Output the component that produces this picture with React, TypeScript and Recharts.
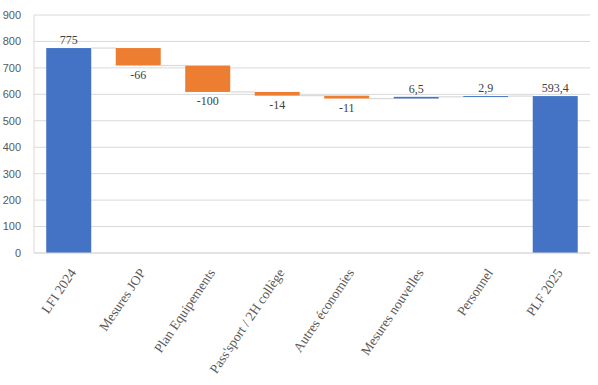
import { Bar, BarChart, CartesianGrid, LabelList, XAxis, YAxis } from "recharts";

const categories = ["LFI 2024", "Mesures JOP", "Plan Equipements", "Pass'sport / 2H collège", "Autres économies", "Mesures nouvelles", "Personnel", "PLF 2025"];
const deltas = [775, -66, -100, -14, -11, 6.5, 2.9, 593.4];
const totals = [true, false, false, false, false, false, false, true];
const yTicks = [0, 100, 200, 300, 400, 500, 600, 700, 800, 900];

const colors = { blue: "#4472c4", orange: "#ed7d31", grid: "#d9d9d9", label: "#404040", tick: "#595959" };

let running = 0;
const rows = categories.map((name, i) => {
  const d = deltas[i];
  if (totals[i]) {
    running = d;
    return { name, base: 0, size: d, delta: d, total: true };
  }
  const prev = running;
  running = prev + d;
  return { name, base: Math.min(prev, running), size: Math.abs(d), delta: d, total: false };
});

const fmt = (v: number) => String(v).replace(".", ",");

function StepBar(props: any) {
  const { x, y, width, height, index } = props;
  const row = rows[index];
  const fill = row.total || row.delta > 0 ? colors.blue : colors.orange;
  const level = !row.total && row.delta < 0 ? y + height : y;
  const gap = width * 0.545;
  return (
    <g>
      <rect x={x} y={y} width={width} height={Math.max(height, 1)} fill={fill} />
      {index < rows.length - 1 && <line x1={x + width} x2={x + width + gap} y1={level} y2={level} stroke={colors.grid} strokeWidth={1.2} />}
    </g>
  );
}

function ValueLabel(props: any) {
  const { x, y, width, height, index } = props;
  const row = rows[index];
  const below = !row.total && row.delta < 0;
  return (
    <text x={x + width / 2} y={below ? y + height + 13 : y - 4} textAnchor="middle" fill={colors.label} fontSize={12} fontFamily="Liberation Serif">
      {fmt(row.delta)}
    </text>
  );
}

function CategoryTick(props: any) {
  const { x, y, payload } = props;
  const tx = x + 4;
  const ty = y + 9;
  return (
    <text x={tx} y={ty} dy="0.35em" textAnchor="end" transform={`rotate(-56, ${tx}, ${ty})`} fill={colors.tick} fontSize={13.5} fontFamily="Liberation Serif">
      {payload.value}
    </text>
  );
}

export default function App() {
  return (
    <div style={{ position: "absolute", left: 0, top: 0, background: "#fff" }}>
      <BarChart width={598} height={385} data={rows} margin={{ top: 15, right: 8, bottom: 0, left: 0 }} barCategoryGap="17.6%">
        <CartesianGrid vertical={false} stroke={colors.grid} />
        <XAxis dataKey="name" interval={0} height={132} tick={<CategoryTick />} axisLine={{ stroke: colors.grid }} tickLine={false} />
        <YAxis domain={[0, 900]} ticks={yTicks} width={34} tick={{ fontSize: 11, fill: colors.tick, fontFamily: "Liberation Sans" }} axisLine={{ stroke: colors.grid }} tickLine={false} tickMargin={7} />
        <Bar dataKey="base" stackId="w" fill="transparent" isAnimationActive={false} />
        <Bar dataKey="size" stackId="w" shape={<StepBar />} isAnimationActive={false}>
          <LabelList content={<ValueLabel />} />
        </Bar>
      </BarChart>
    </div>
  );
}
